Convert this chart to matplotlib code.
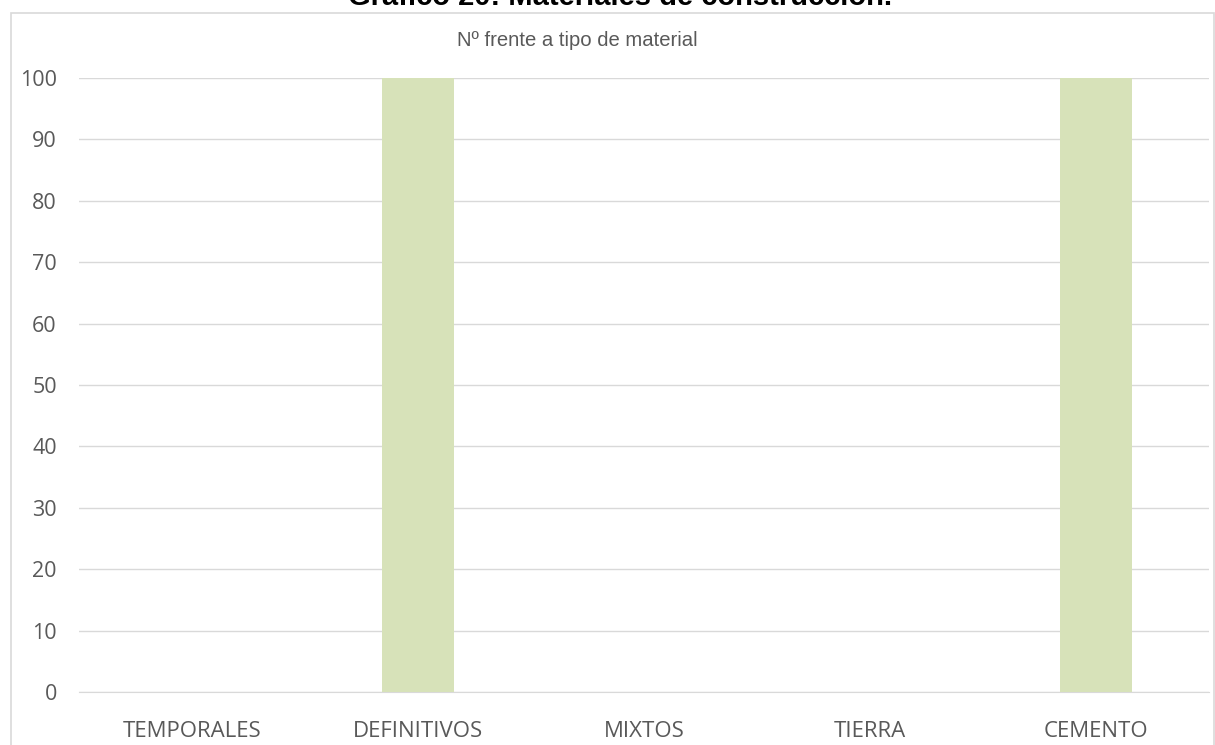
import matplotlib
matplotlib.use("Agg")
import matplotlib.pyplot as plt
from matplotlib.patches import Rectangle

categories = ["TEMPORALES", "DEFINITIVOS", "MIXTOS", "TIERRA", "CEMENTO"]
values = [0, 100, 0, 0, 100]
yticks = [0, 10, 20, 30, 40, 50, 60, 70, 80, 90, 100]
title = "Gráfico 20: Materiales de construcción."
subtitle = "Nº frente a tipo de material"

W, H = 1215, 745
fig = plt.figure(figsize=(W / 100, H / 100), dpi=100)
fig.patch.set_facecolor("white")

# outer chart frame
fig.patches.append(Rectangle((11 / W, -0.05), (1214 - 11) / W, 1 - 13 / H + 0.05,
                             transform=fig.transFigure, fill=False,
                             edgecolor="#d9d9d9", linewidth=1.2))

ax = fig.add_axes([79 / W, 1 - 692 / H, (1209 - 79) / W, (692 - 78) / H])
x = range(len(categories))
ax.bar(x, values, width=0.315, color="#d7e2b9", zorder=3)
ax.set_xlim(-0.5, len(categories) - 0.5)
ax.set_ylim(0, 100)
ax.set_yticks(yticks)
ax.set_xticks(list(x))
ax.set_xticklabels(categories)
ax.grid(axis="y", color="#d9d9d9", linewidth=1.0, zorder=0)
for s in ax.spines.values():
    s.set_visible(False)
ax.spines["bottom"].set_visible(True)
ax.spines["bottom"].set_color("#d9d9d9")
ax.tick_params(length=0, colors="#595959")
ax.tick_params(axis="x", pad=21, labelsize=16)
ax.tick_params(axis="y", pad=16, labelsize=15.5)
for lab in ax.get_xticklabels() + ax.get_yticklabels():
    lab.set_family(["Open Sans", "DejaVu Sans"])

fig.text(620 / W, 1 - 5 / H, title, ha="center", va="baseline",
         fontsize=21, fontweight="bold", color="black",
         family=["Liberation Sans", "DejaVu Sans"])
fig.text(577 / W, 1 - 41 / H, subtitle, ha="center", va="center",
         fontsize=14.6, color="#595959", family=["Liberation Sans", "DejaVu Sans"])

fig.savefig("out.png", dpi=100)
